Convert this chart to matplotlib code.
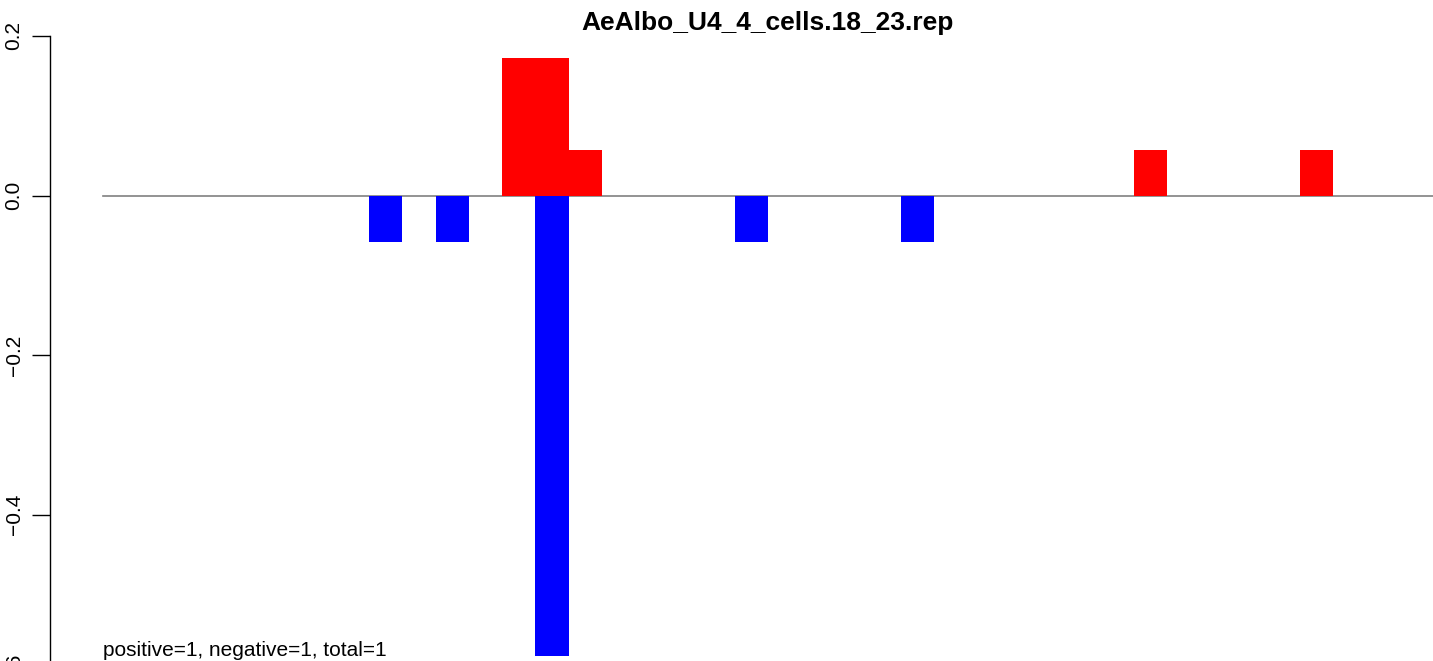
import matplotlib.pyplot as plt

# bar slots (0..39)
pos_idx = [12, 13, 14, 31, 36]
pos_val = [0.172, 0.172, 0.057, 0.057, 0.057]
neg_idx = [8, 10, 13, 19, 24]
neg_val = [-0.058, -0.058, -0.577, -0.058, -0.058]
n_slots = 40

title = "AeAlbo_U4_4_cells.18_23.rep"
note = "positive=1, negative=1, total=1"
yticks = [-0.6, -0.4, -0.2, 0.0, 0.2]

plt.rcParams["font.family"] = ["Liberation Sans", "DejaVu Sans"]

W, H = 1433, 661
fig = plt.figure(figsize=(W / 100, H / 100), dpi=100)

# axes placed in pixel coordinates to mimic the R layout
left_px, right_px = 50, 1433
top_px, bot_px = 36, 674
ax = fig.add_axes([left_px / W, (H - bot_px) / H,
                   (right_px - left_px) / W, (bot_px - top_px) / H])

slot_px = 33.25
x0_px = 103
ax.set_xlim(-(x0_px - left_px) / slot_px, (right_px - x0_px) / slot_px)
ax.set_ylim(-0.6, 0.2)

ax.bar(pos_idx, pos_val, width=1.0, align="edge", color="#FF0000", linewidth=0)
ax.bar(neg_idx, neg_val, width=1.0, align="edge", color="#0000FF", linewidth=0)
ax.plot([0, n_slots], [0, 0], color="#808080", linewidth=1.2, zorder=0)

for s in ["top", "right", "bottom"]:
    ax.spines[s].set_visible(False)
ax.spines["left"].set_linewidth(1.0)
ax.set_xticks([])
ax.set_yticks(yticks)
ax.set_yticklabels([f"{v:.1f}".replace("-", "\u2212") for v in yticks],
                   rotation=90, va="center", fontsize=15)
ax.tick_params(axis="y", length=13, width=1.0, pad=6)

fig.text(768 / W, 1 - 23 / H, title, ha="center", va="center",
         fontsize=19, fontweight="bold")
ax.text(0, -0.578, note, fontsize=15)

fig.savefig("out.png", dpi=100)
